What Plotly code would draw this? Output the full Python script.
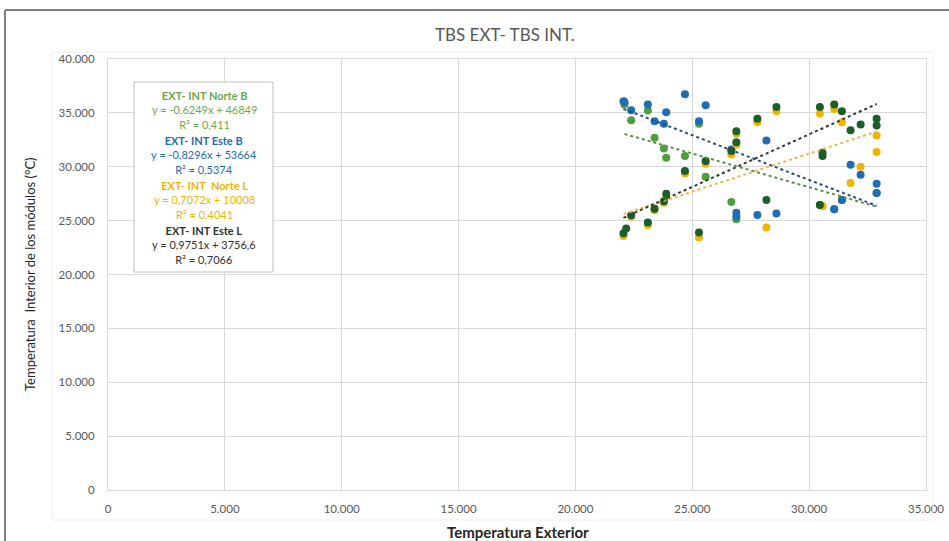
import numpy as np
import plotly.graph_objects as go

# ---- data: exterior temperature (x) vs. module interior temperature (y) ----
ext_norte_b = [22100, 22385, 23100, 23385, 23785, 23885, 24686, 25286, 25572,
               26672, 26886, 30459, 31073, 31402, 32888]
int_norte_b = [35772, 34321, 35216, 32685, 31698, 30834, 30988, 33982, 29075,
               26729, 25125, 26452, 26051, 26915, 27563]

ext_este_b = [22056, 22100, 22385, 23100, 23385, 23785, 23885, 24686, 25286,
              25572, 26672, 26886, 26886, 27786, 28172, 28600, 31073, 31402,
              31773, 32202, 32888, 32888]
int_este_b = [36080, 35988, 35247, 35772, 34229, 33982, 35062, 36728, 34229,
              35710, 31605, 25742, 25372, 25526, 32439, 25650, 26051, 26915,
              30186, 29260, 28427, 27563]

ext_norte_l = [22056, 22385, 23100, 23385, 23785, 23885, 24686, 25286, 25572,
               26672, 26886, 26886, 27786, 28172, 28600, 30459, 30573, 31073,
               31402, 31773, 32202, 32888, 32888]
int_norte_l = [23582, 25372, 24600, 25958, 26668, 27285, 29383, 23428, 30278,
               31142, 33056, 32068, 34136, 24353, 35154, 34938, 26329, 35370,
               34136, 28489, 30001, 32901, 31358]

ext_este_l = [22056, 22171, 22385, 23100, 23385, 23785, 23885, 24686, 25286,
              25572, 26672, 26886, 26886, 27786, 28172, 28600, 30459, 30459,
              30573, 30573, 31073, 31402, 31773, 32202, 32888, 32888]
int_este_l = [23829, 24261, 25495, 24816, 26113, 26800, 27501, 29600, 23890,
              30525, 31451, 33303, 32284, 34445, 26915, 35555, 35555, 26452,
              31300, 30990, 35772, 35154, 33395, 33920, 34445, 33827]

# linear trend coefficients (slope, intercept) and R² per series
trend_norte_b = (-0.6249, 46849, "0,411")
trend_este_b = (-0.8296, 53664, "0,5374")
trend_norte_l = (0.7072, 10008, "0,4041")
trend_este_l = (0.9751, 3756.6, "0,7066")

series_names = ["EXT- INT Norte B", "EXT- INT Este B", "EXT- INT  Norte L", "EXT- INT Este L"]
eq_texts = ["y = -0,6249x + 46849", "y = -0,8296x + 53664",
            "y = 0,7072x + 10008", "y = 0,9751x + 3756,6"]

x_ticks = [0, 5000, 10000, 15000, 20000, 25000, 30000, 35000]
y_ticks = [0, 5000, 10000, 15000, 20000, 25000, 30000, 35000, 40000]

# ---- styling ----
W, H = 949, 541
ML, MR, MT, MB = 108, 23, 59, 51
PW, PH = W - ML - MR, H - MT - MB

marker_colors = ["#4e9f3d", "#1f6db4", "#f0b400", "#1b5e2b"]
trend_colors = ["#5b8f4a", "#2a4f7c", "#e9b64a", "#2e3d30"]
text_colors = ["#6aa84f", "#1f6db4", "#f0b400", "#333333"]
FONT = "Lato"


def px(xpix):
    return (xpix - ML) / PW


def py(ypix):
    return (H - MB - ypix) / PH


fig = go.Figure()

data = [(ext_norte_b, int_norte_b, trend_norte_b),
        (ext_este_b, int_este_b, trend_este_b),
        (ext_norte_l, int_norte_l, trend_norte_l),
        (ext_este_l, int_este_l, trend_este_l)]

# markers: dark green drawn last so it sits on top of the yellow
for i in range(4):
    xs, ys, _ = data[i]
    fig.add_trace(go.Scatter(
        x=xs, y=ys, mode="markers", name=series_names[i],
        marker=dict(size=8, color=marker_colors[i], line=dict(width=0)),
        showlegend=False, hoverinfo="x+y"))

# dotted linear trendlines from the stated equations
for i in range(4):
    xs, _, (m, b, _) = data[i]
    tx = np.linspace(min(xs), max(xs), 50)
    fig.add_trace(go.Scatter(
        x=tx, y=m * tx + b, mode="lines",
        line=dict(color=trend_colors[i], width=2, dash="dot"),
        showlegend=False, hoverinfo="skip"))

shapes = [
    # outer frame (top and left edges)
    dict(type="line", xref="paper", yref="paper", x0=px(5), x1=px(W + 5),
         y0=py(10), y1=py(10), line=dict(color="#808080", width=2)),
    dict(type="line", xref="paper", yref="paper", x0=px(5), x1=px(5),
         y0=py(10), y1=py(H + 5), line=dict(color="#808080", width=2)),
    # faint chart-area box
    dict(type="rect", xref="paper", yref="paper", x0=px(52), x1=px(933),
         y0=py(52), y1=py(520), line=dict(color="#efefef", width=1)),
    # equation box
    dict(type="rect", xref="paper", yref="paper", x0=px(134), x1=px(273),
         y0=py(82), y1=py(272), line=dict(color="#bfbfbf", width=1),
         fillcolor="white", layer="above"),
]

annotations = [
    dict(text="TBS EXT- TBS INT.", xref="paper", yref="paper",
         x=px(505), y=py(35), showarrow=False,
         xanchor="center", yanchor="middle",
         font=dict(family=FONT, size=17, color="#595959")),
    dict(text="<b>Temperatura Exterior</b>", xref="paper", yref="paper",
         x=px(518), y=py(532), showarrow=False,
         xanchor="center", yanchor="middle",
         font=dict(family=FONT, size=15, color="#262626")),
    dict(text="Temperatura  Interior de los módulos (°C)", xref="paper", yref="paper",
         x=px(30), y=py(274), showarrow=False, textangle=-90,
         xanchor="center", yanchor="middle",
         font=dict(family=FONT, size=13, color="#262626")),
]

# equation box: one three-line block per series
group_y = [110, 155, 200, 245]
for i in range(4):
    m, b, r2 = data[i][2]
    block = "<b>" + series_names[i] + "</b><br>" + eq_texts[i] + "<br>R² = " + r2
    annotations.append(dict(
        text=block, xref="paper", yref="paper", x=px(204), y=py(group_y[i]),
        showarrow=False, xanchor="center", yanchor="middle", align="center",
        font=dict(family=FONT, size=11, color=text_colors[i])))

axis_common = dict(
    showgrid=True, gridcolor="#d9d9d9", gridwidth=1,
    zeroline=True, zerolinecolor="#d9d9d9", zerolinewidth=1,
    showline=True, linecolor="#d9d9d9", linewidth=1, mirror=True,
    ticks="", automargin=False, tickformat=",d",
    tickfont=dict(family=FONT, size=11.5, color="#595959"),
)

fig.update_layout(
    width=W, height=H,
    margin=dict(l=ML, r=MR, t=MT, b=MB, pad=0, autoexpand=False),
    paper_bgcolor="white", plot_bgcolor="white",
    separators=",.",
    font=dict(family=FONT, size=11, color="#595959"),
    shapes=shapes, annotations=annotations,
    xaxis=dict(range=[0, 35000], tickvals=x_ticks, ticklabelstandoff=8,
               **axis_common),
    yaxis=dict(range=[0, 40000], tickvals=y_ticks, ticklabelstandoff=10,
               **axis_common),
)

fig.write_html("out.html")
